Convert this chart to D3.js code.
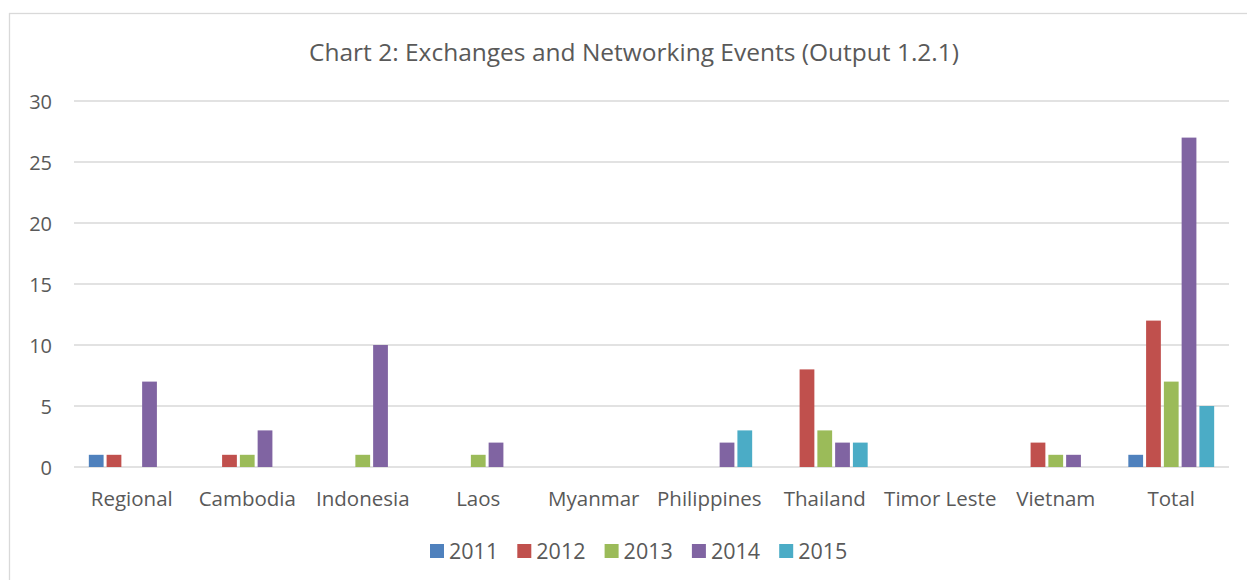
<!DOCTYPE html>
<html>
<head>
<meta charset="utf-8">
<script src="https://cdn.jsdelivr.net/npm/d3@7"></script>
<style>
  body { margin: 0; background: #fff; }
  svg text { font-family: "Open Sans", sans-serif; fill: #595959; }
</style>
</head>
<body>
<svg id="chart"></svg>
<script>
const width = 1247;
const height = 580;

const categories = ["Regional", "Cambodia", "Indonesia", "Laos", "Myanmar",
  "Philippines", "Thailand", "Timor Leste", "Vietnam", "Total"];
const years = ["2011", "2012", "2013", "2014", "2015"];
const yearColors = ["#4f81bd", "#c0504d", "#9bbb59", "#8064a2", "#4bacc6"];

// values per category, one per year
const v2011 = [1, 0, 0, 0, 0, 0, 0, 0, 0, 1];
const v2012 = [1, 1, 0, 0, 0, 0, 8, 0, 2, 12];
const v2013 = [0, 1, 1, 1, 0, 0, 3, 0, 1, 7];
const v2014 = [7, 3, 10, 2, 0, 2, 2, 0, 1, 27];
const v2015 = [0, 0, 0, 0, 0, 3, 2, 0, 0, 5];
const yTicks = [0, 5, 10, 15, 20, 25, 30];

const series = [v2011, v2012, v2013, v2014, v2015];

const plot = { left: 74, right: 1229, top: 101, bottom: 467 };

let svg = d3.select("#chart")
  .attr("width", width)
  .attr("height", height);

// рамка вокруг графика
svg.append("rect")
  .attr("x", 9.5).attr("y", 13.5)
  .attr("width", 1250).attr("height", 600)
  .attr("fill", "#fff")
  .attr("stroke", "#d9d9d9")
  .attr("stroke-width", 1.3);

svg.append("text")
  .attr("x", 634).attr("y", 61)
  .attr("text-anchor", "middle")
  .style("font-size", "24.5px")
  .text("Chart 2: Exchanges and Networking Events (Output 1.2.1)");

let scaleX = d3.scaleBand()
  .domain(categories)
  .range([plot.left, plot.right]);

let scaleY = d3.scaleLinear()
  .domain([0, 30])
  .range([plot.bottom, plot.top]);

// gap width 150% like in Excel
const barW = scaleX.bandwidth() / (years.length + 1.5);
let scaleInner = d3.scaleBand()
  .domain(years)
  .range([barW * 0.75, barW * 0.75 + barW * years.length]);

// сетка
svg.append("g")
  .selectAll("line")
  .data(yTicks)
  .join("line")
  .attr("x1", plot.left).attr("x2", plot.right)
  .attr("y1", d => scaleY(d)).attr("y2", d => scaleY(d))
  .attr("stroke", "#d9d9d9")
  .attr("stroke-width", 1.3);

// подписи оси Y
let axisY = d3.axisLeft(scaleY).tickValues(yTicks).tickSize(0).tickPadding(0);
let gy = svg.append("g")
  .attr("transform", `translate(52, 0)`)
  .call(axisY);
gy.select(".domain").remove();
gy.selectAll("text")
  .attr("dy", "0.36em")
  .style("font-size", "20px")
  .style("font-family", "'Open Sans', sans-serif")
  .attr("fill", "#595959");

// подписи оси X
let axisX = d3.axisBottom(scaleX).tickSize(0).tickPadding(0);
let gx = svg.append("g")
  .attr("transform", `translate(0, 491)`)
  .call(axisX);
gx.select(".domain").remove();
gx.selectAll("text")
  .attr("dy", "0.71em")
  .style("font-size", "20.5px")
  .style("font-family", "'Open Sans', sans-serif")
  .attr("fill", "#595959");

// столбцы
series.forEach((vals, i) => {
  svg.append("g")
    .selectAll("rect")
    .data(categories.map((c, j) => ({ cat: c, value: vals[j] })).filter(d => d.value > 0))
    .join("rect")
    .attr("x", d => scaleX(d.cat) + scaleInner(years[i]) + 1.5)
    .attr("y", d => scaleY(d.value))
    .attr("width", scaleInner.bandwidth() - 3)
    .attr("height", d => scaleY(0) - scaleY(d.value))
    .attr("fill", yearColors[i]);
});

// легенда
let legend = svg.append("g")
  .selectAll("g")
  .data(years)
  .join("g")
  .attr("transform", (d, i) => `translate(${430 + i * 87.3}, 544)`);
legend.append("rect")
  .attr("width", 14).attr("height", 14)
  .attr("fill", (d, i) => yearColors[i]);
legend.append("text")
  .attr("x", 19).attr("y", 14.5)
  .style("font-size", "21.5px")
  .text(d => d);
</script>
</body>
</html>
